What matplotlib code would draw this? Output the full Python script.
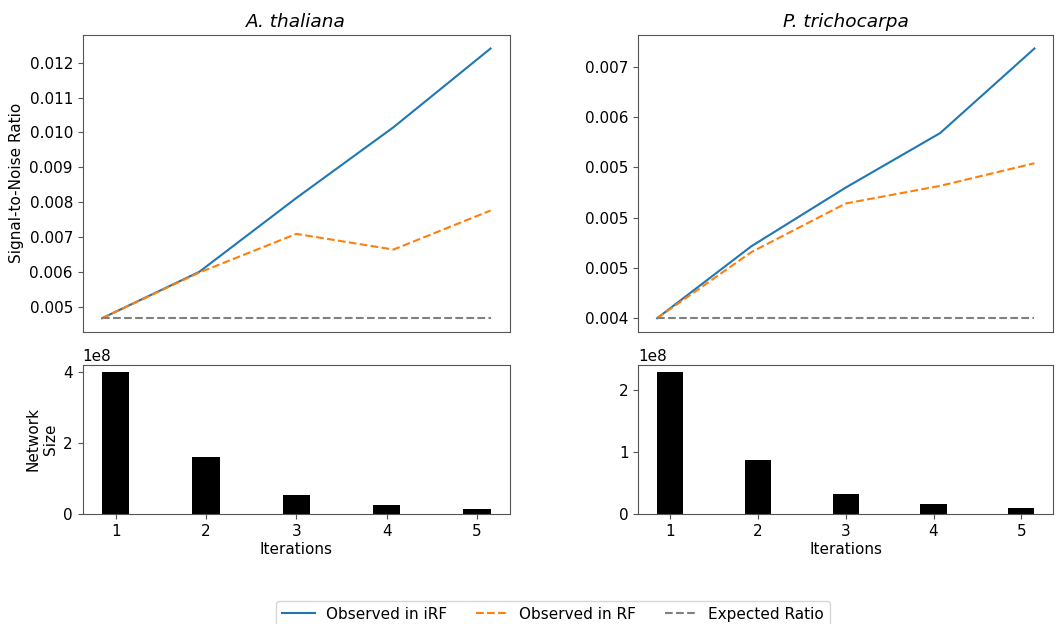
import matplotlib
matplotlib.use('Agg')
import matplotlib.pyplot as plt
from matplotlib.ticker import FixedLocator, FixedFormatter, FormatStrFormatter, MaxNLocator

iterations = [1, 2, 3, 4, 5]

ath_title = "A. thaliana"
ath_irf = [0.00467, 0.00600, 0.00812, 0.01015, 0.01241]
ath_rf = [0.00467, 0.00598, 0.00709, 0.00664, 0.00776]
ath_expected = [0.00467, 0.00467, 0.00467, 0.00467, 0.00467]
ath_size = [4.0e8, 1.61e8, 0.54e8, 0.26e8, 0.15e8]

ptr_title = "P. trichocarpa"
ptr_irf = [0.00400, 0.00486, 0.00556, 0.00621, 0.00722]
ptr_rf = [0.00400, 0.00479, 0.00537, 0.00558, 0.00585]
ptr_expected = [0.00400, 0.00400, 0.00400, 0.00400, 0.00400]
ptr_size = [2.29e8, 0.865e8, 0.32e8, 0.157e8, 0.092e8]
ptr_ytick_values = [0.004, 0.0046, 0.0052, 0.0058, 0.0064, 0.007]
ptr_ytick_labels = ['0.004', '0.005', '0.005', '0.005', '0.006', '0.007']

series_labels = ['Observed in iRF', 'Observed in RF', 'Expected Ratio']

plt.rcParams['font.family'] = ['DejaVu Sans']
plt.rcParams['font.size'] = 11
spine_col = '#555555'

fig = plt.figure(figsize=(10.55, 6.24), dpi=100)

W, H = 1055, 624
def rect(x0, x1, ytop, ybot):
    return [x0 / W, 1 - ybot / H, (x1 - x0) / W, (ybot - ytop) / H]

ax_lt = fig.add_axes(rect(82.7, 510, 35, 331.7))
ax_rt = fig.add_axes(rect(638.3, 1053.3, 35, 331.7))
ax_lb = fig.add_axes(rect(82.7, 510, 365, 514))
ax_rb = fig.add_axes(rect(638.3, 1053.3, 365, 514))

for ax in (ax_lt, ax_rt, ax_lb, ax_rb):
    for s in ax.spines.values():
        s.set_color(spine_col)
    ax.tick_params(color=spine_col)

def top(ax, irf, rf, exp, title):
    l1, = ax.plot(iterations, irf, color='#1f77b4', lw=1.5, label=series_labels[0])
    l2, = ax.plot(iterations, rf, color='#ff7f0e', lw=1.5, ls='--', label=series_labels[1])
    l3, = ax.plot(iterations, exp, color='gray', lw=1.5, ls='--', label=series_labels[2])
    ax.set_xticks([])
    ax.set_title(title, style='italic', fontsize=13.3)
    return [l1, l2, l3]

handles = top(ax_lt, ath_irf, ath_rf, ath_expected, ath_title)
top(ax_rt, ptr_irf, ptr_rf, ptr_expected, ptr_title)
ax_lt.yaxis.set_major_formatter(FormatStrFormatter('%.3f'))
ax_lt.set_ylabel('Signal-to-Noise Ratio')
ax_rt.yaxis.set_major_locator(FixedLocator(ptr_ytick_values))
ax_rt.yaxis.set_major_formatter(FixedFormatter(ptr_ytick_labels))

def bottom(ax, sizes):
    ax.bar(iterations, sizes, width=0.3, color='black')
    ax.set_xticks(iterations)
    ax.set_xlabel('Iterations', labelpad=2)
    ax.yaxis.set_major_locator(MaxNLocator(3, steps=[1, 2, 5, 10]))

bottom(ax_lb, ath_size)
bottom(ax_rb, ptr_size)
ax_lb.set_ylabel('Network\nSize')

fig.legend(handles=handles, loc='upper center', bbox_to_anchor=(553 / W, 1 - 593 / H),
           ncol=3, frameon=True, handlelength=2.1, handletextpad=0.72, columnspacing=1.9)

fig.savefig('out.png', dpi=100)
